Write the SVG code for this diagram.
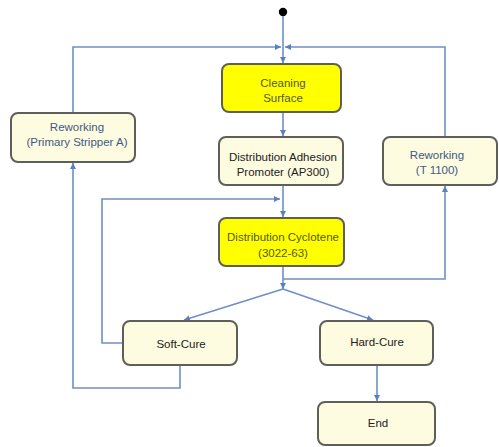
<svg xmlns="http://www.w3.org/2000/svg" width="499" height="447" viewBox="0 0 499 447">
<defs>
<marker id="ah" viewBox="0 0 6 6" refX="6" refY="3" markerWidth="6" markerHeight="6" markerUnits="userSpaceOnUse" orient="auto">
<path d="M0,0 L6,3 L0,6 z" fill="#5b7fbf"/>
</marker>
<style>
.c{fill:none;stroke:#6f8fc8;stroke-width:1.6}
.a{marker-end:url(#ah)}
.n{fill:#fdfbe0;stroke:#5f5f5a;stroke-width:2}
.y{fill:#ffff00;stroke:#5f5f5a;stroke-width:2}
text{font-family:"Liberation Sans",Arial,sans-serif;font-size:11.5px;text-anchor:middle}
.tb{fill:#3d5a84}
.td{fill:#222}
.ty{fill:#55591f}
</style>
</defs>
<rect width="499" height="447" fill="#fff"/>
<g id="connectors">
<circle cx="283" cy="12" r="4.2" fill="#000"/>
<path class="c a" d="M283,16 V63"/>
<path class="c a" d="M73,113 V47 H281"/>
<path class="c a" d="M445,137 V47 H285"/>
<path class="c a" d="M283,112 V136"/>
<path class="c a" d="M283,185 V217"/>
<path class="c a" d="M124,343 H102 V199 H280"/>
<path class="c a" d="M283,266 V289"/>
<path class="c a" d="M283,279 H445 V186"/>
<path class="c a" d="M283,289 L184,320"/>
<path class="c a" d="M283,289 L373,320"/>
<path class="c a" d="M180,365 V388 H73 V163"/>
<path class="c a" d="M377,365 V401"/>
</g>
<g id="cleaning">
<rect class="y" x="222" y="64" width="119" height="48" rx="7"/>
<text class="ty" x="283" y="87">Cleaning</text>
<text class="ty" x="283" y="102">Surface</text>
</g>
<g id="rework-a">
<rect class="n" x="11" y="113" width="124" height="49" rx="7"/>
<text class="tb" x="77" y="131">Reworking</text>
<text class="tb" x="77" y="146">(Primary Stripper A)</text>
</g>
<g id="adhesion">
<rect class="n" x="219" y="137" width="124" height="48" rx="7"/>
<text class="td" x="283" y="161">Distribution Adhesion</text>
<text class="td" x="283" y="176">Promoter (AP300)</text>
</g>
<g id="rework-t">
<rect class="n" x="383" y="137" width="114" height="48" rx="7"/>
<text class="tb" x="437" y="159">Reworking</text>
<text class="tb" x="437" y="174">(T 1100)</text>
</g>
<g id="cyclotene">
<rect class="y" x="219" y="218" width="125" height="48" rx="7"/>
<text class="ty" x="283" y="241">Distribution Cyclotene</text>
<text class="ty" x="283" y="257">(3022-63)</text>
</g>
<g id="softcure">
<rect class="n" x="123" y="321" width="114" height="44" rx="7"/>
<text class="td" x="181" y="348">Soft-Cure</text>
</g>
<g id="hardcure">
<rect class="n" x="320" y="321" width="113" height="44" rx="7"/>
<text class="td" x="377" y="346">Hard-Cure</text>
</g>
<g id="end">
<rect class="n" x="318" y="402" width="117" height="43" rx="7"/>
<text class="td" x="378" y="427">End</text>
</g>
</svg>
